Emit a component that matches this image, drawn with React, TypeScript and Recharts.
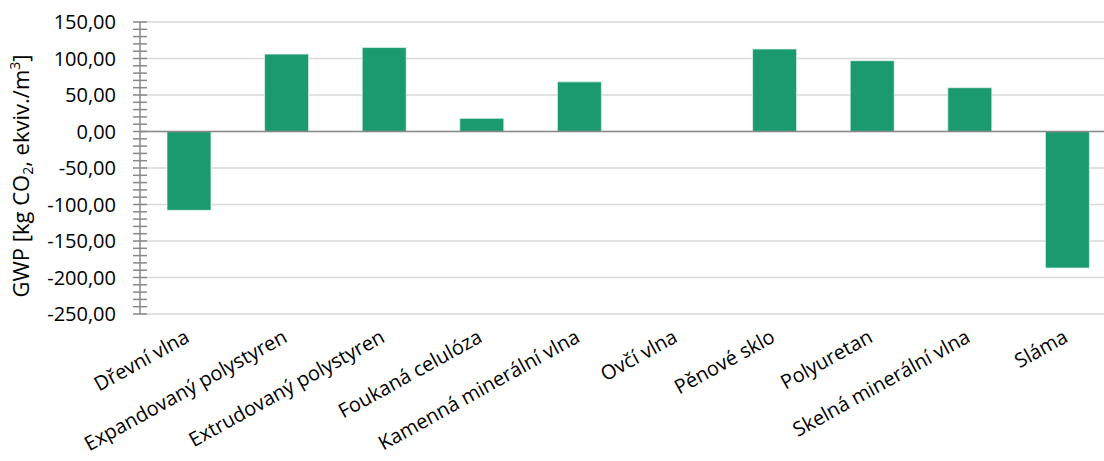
import React from 'react';
import { BarChart, Bar, XAxis, YAxis, CartesianGrid, ReferenceLine, Label } from 'recharts';

const categories = [
  'Dřevní vlna',
  'Expandovaný polystyren',
  'Extrudovaný polystyren',
  'Foukaná celulóza',
  'Kamenná minerální vlna',
  'Ovčí vlna',
  'Pěnové sklo',
  'Polyuretan',
  'Skelná minerální vlna',
  'Sláma',
];

const gwpValues = [-108, 106, 115, 18, 68, 0, 113, 97, 60, -187];

const majorTicks = [-250, -200, -150, -100, -50, 0, 50, 100, 150];

const allTicks = [
  -250, -240, -230, -220, -210, -200, -190, -180, -170, -160,
  -150, -140, -130, -120, -110, -100, -90, -80, -70, -60,
  -50, -40, -30, -20, -10, 0, 10, 20, 30, 40,
  50, 60, 70, 80, 90, 100, 110, 120, 130, 140, 150,
];

const data = categories.map((name, i) => ({ name, gwp: gwpValues[i] }));

const FONT = '"Open Sans", Lato, sans-serif';
const AXIS_GRAY = '#888888';

const fmt = (v: number) => v.toFixed(2).replace('.', ',');

const YTick = (props: any) => {
  const { x, y, payload } = props;
  const v = payload.value as number;
  const isMajor = majorTicks.includes(v);
  return (
    <g>
      <line x1={x - 7} x2={x + 7} y1={y} y2={y} stroke={AXIS_GRAY} strokeWidth={1.5} />
      {isMajor && (
        <text x={x - 24} y={y} dy="0.35em" textAnchor="end" fontFamily={FONT} fontSize={20} fill="#000">
          {fmt(v)}
        </text>
      )}
    </g>
  );
};

const XTick = (props: any) => {
  const { x, y, payload } = props;
  const ax = x + 2;
  const ay = y + 27;
  return (
    <text
      x={ax}
      y={ay}
      textAnchor="end"
      transform={`rotate(-29, ${ax}, ${ay})`}
      fontFamily={FONT}
      fontSize={20}
      fill="#000"
    >
      {payload.value}
    </text>
  );
};

const YLabel = (props: any) => {
  const vb = props.viewBox || { x: 0, y: 0, width: 140, height: 292 };
  const cx = vb.x + 29;
  const cy = vb.y + vb.height / 2 + 8;
  return (
    <text
      x={cx}
      y={cy}
      textAnchor="middle"
      transform={`rotate(-90, ${cx}, ${cy})`}
      fontFamily={FONT}
      fontSize={22}
      fill="#000"
    >
      <tspan>GWP [kg CO</tspan>
      <tspan fontSize={14} dy={4}>2</tspan>
      <tspan dy={-4}>, ekviv./m</tspan>
      <tspan fontSize={14} dy={-9}>3</tspan>
      <tspan dy={9}>]</tspan>
    </text>
  );
};

export default function App() {
  return (
    <div
      style={{
        position: 'absolute',
        left: 0,
        top: 0,
        width: 1104,
        height: 461,
        overflow: 'hidden',
        background: '#fff',
      }}
    >
      <BarChart
        width={1117}
        height={461}
        data={data}
        margin={{ top: 22, right: 1, left: 0, bottom: 0 }}
      >
        <CartesianGrid
          vertical={false}
          horizontalValues={majorTicks}
          stroke="#d9d9d9"
          strokeWidth={1.5}
        />
        <XAxis
          dataKey="name"
          axisLine={false}
          tickLine={false}
          tickSize={0}
          tickMargin={0}
          interval={0}
          height={147}
          tick={<XTick />}
        />
        <YAxis
          domain={[-250, 150]}
          ticks={allTicks}
          interval={0}
          width={140}
          tickSize={0}
          tickMargin={0}
          tickLine={false}
          axisLine={{ stroke: AXIS_GRAY, strokeWidth: 1.5 }}
          tick={<YTick />}
          allowDataOverflow
        >
          <Label content={<YLabel />} />
        </YAxis>
        <Bar
          dataKey="gwp"
          fill="#1a9a6e"
          stroke="#e3f3ec"
          strokeWidth={0.75}
          barSize={44}
          isAnimationActive={false}
        />
        <ReferenceLine y={0} stroke="#8a8a8a" strokeWidth={1.5} />
      </BarChart>
    </div>
  );
}
